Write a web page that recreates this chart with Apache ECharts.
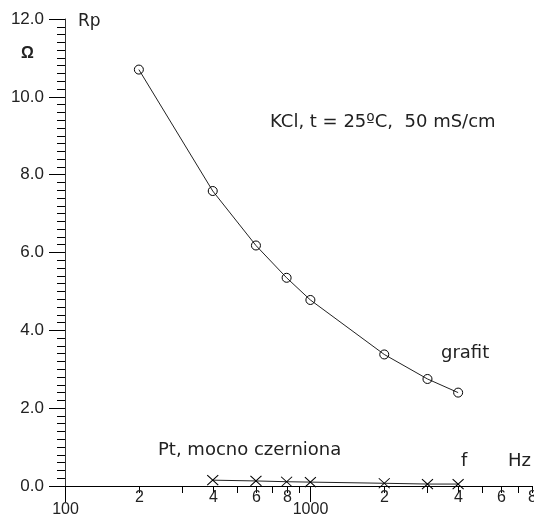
<!DOCTYPE html>
<html>
<head>
<meta charset="utf-8">
<script src="https://cdn.jsdelivr.net/npm/echarts@6/dist/echarts.min.js"></script>
<style>
  html, body { margin: 0; padding: 0; background: #fff; }
  #chart { width: 534px; height: 524px; }
</style>
</head>
<body>
<div id="chart"></div>
<script>
// Polarisation resistance Rp vs. frequency, KCl 50 mS/cm at 25 °C
const freqGrafit = [200, 400, 600, 800, 1000, 2000, 3000, 4000];
const rpGrafit   = [10.7, 7.58, 6.18, 5.35, 4.78, 3.38, 2.75, 2.4];

const freqPt = [400, 600, 800, 1000, 2000, 3000, 4000];
const rpPt   = [0.15, 0.13, 0.11, 0.10, 0.07, 0.05, 0.05];

// log-axis decorations: decade ticks and intermediate ticks
const xMajorTicks  = [100, 1000];
const xMajorLabels = ['100', '1000'];
const xMinorTicks  = [200, 300, 400, 500, 600, 700, 800, 900,
                      2000, 3000, 4000, 5000, 6000, 7000, 8000];
const xMinorLabelValues = [200, 400, 600, 800, 2000, 4000, 6000, 8000];
const xMinorLabels      = ['2', '4', '6', '8', '2', '4', '6', '8'];

const yMin = 0, yMax = 12, yStep = 2;

const FONT = '"Liberation Sans", Arial, sans-serif';
const TEXT_FONT = '"DejaVu Sans", sans-serif';
const INK = '#222';

function tickSeries(values, labels, len, labelOffset) {
  return {
    type: 'custom',
    silent: true,
    clip: false,
    z: 5,
    data: values.map(v => [v, 0]),
    renderItem: function (params, api) {
      const p = api.coord([api.value(0), 0]);
      const x = Math.round(p[0]) + 0.5;
      const y = Math.round(p[1]);
      const children = [];
      if (len > 0) {
        children.push({
          type: 'line',
          shape: { x1: x, y1: y, x2: x, y2: y + len },
          style: { stroke: '#000', lineWidth: 1 }
        });
      }
      if (labels) {
        children.push({
          type: 'text',
          style: {
            text: labels[params.dataIndex],
            x: x, y: y + labelOffset,
            align: 'center', verticalAlign: 'middle',
            font: '16px ' + FONT, fill: INK
          }
        });
      }
      return { type: 'group', children: children };
    }
  };
}

const chart = echarts.init(document.getElementById('chart'));
chart.setOption({
  animation: false,
  backgroundColor: '#fff',
  grid: { left: 65, right: 2, top: 19, bottom: 38, containLabel: false },
  xAxis: {
    type: 'log',
    logBase: 10,
    min: 100,
    max: 8000,
    axisLine: { show: true, onZero: false, lineStyle: { color: '#000', width: 1 } },
    axisTick: { show: false },
    axisLabel: { show: false },
    splitLine: { show: false }
  },
  yAxis: {
    type: 'value',
    min: yMin,
    max: yMax,
    interval: yStep,
    axisLine: { show: true, lineStyle: { color: '#333', width: 1 } },
    axisTick: { show: true, length: 16, lineStyle: { color: '#000' } },
    minorTick: { show: true, splitNumber: 10, length: 8, lineStyle: { color: '#000' } },
    axisLabel: {
      margin: 21,
      fontFamily: FONT,
      fontSize: 17,
      color: INK,
      formatter: v => v.toFixed(1)
    },
    splitLine: { show: false }
  },
  series: [
    {
      name: 'grafit',
      type: 'line',
      data: freqGrafit.map((f, i) => [f, rpGrafit[i]]),
      symbol: 'circle',
      symbolSize: 9,
      lineStyle: { color: '#222', width: 1 },
      itemStyle: { color: 'rgba(0,0,0,0)', borderColor: '#000', borderWidth: 1 },
      z: 3
    },
    {
      name: 'Pt, mocno czerniona',
      type: 'line',
      data: freqPt.map((f, i) => [f, rpPt[i]]),
      symbol: 'path://M0,0L10,10M10,0L0,10',
      symbolSize: [11, 10],
      lineStyle: { color: '#222', width: 1 },
      itemStyle: { color: 'rgba(0,0,0,0)', borderColor: '#000', borderWidth: 1 },
      z: 3
    },
    tickSeries(xMajorTicks, xMajorLabels, 16, 24),
    tickSeries(xMinorTicks, null, 7, 0),
    tickSeries(xMinorLabelValues, xMinorLabels, 0, 12)
  ],
  graphic: [
    { type: 'text', left: 78, top: 13,
      style: { text: 'Rp', font: '17px ' + TEXT_FONT, fill: INK } },
    { type: 'text', left: 21, top: 46,
      style: { text: 'Ω', font: 'bold 16px ' + FONT, fill: INK } },
    { type: 'text', left: 270, top: 113,
      style: { text: 'KCl, t = 25ºC,  50 mS/cm', font: '18px ' + TEXT_FONT, fill: INK } },
    { type: 'text', left: 441, top: 344,
      style: { text: 'grafit', font: '18px ' + TEXT_FONT, fill: INK } },
    { type: 'text', left: 158, top: 441,
      style: { text: 'Pt, mocno czerniona', font: '18px ' + TEXT_FONT, fill: INK } },
    { type: 'text', left: 461, top: 452,
      style: { text: 'f', font: '18px ' + TEXT_FONT, fill: INK } },
    { type: 'text', left: 508, top: 452,
      style: { text: 'Hz', font: '18px ' + TEXT_FONT, fill: INK } }
  ]
});
</script>
</body>
</html>
